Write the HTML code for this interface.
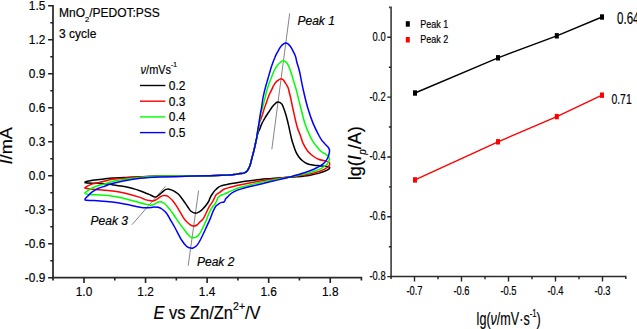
<!DOCTYPE html><html><head><meta charset="utf-8"><style>html,body{margin:0;padding:0;background:#fff;}svg{display:block;}text{font-family:"Liberation Sans",sans-serif;stroke:#000;stroke-width:0.18px;}</style></head><body>
<svg width="637" height="329" viewBox="0 0 637 329">
<rect width="637" height="329" fill="#fff"/>
<path d="M53.0,5.0 V280.59999999999997" fill="none" stroke="#444" stroke-width="2.0"/>
<path d="M52.0,277.7 H361.4 V280.5" fill="none" stroke="#2a2a2a" stroke-width="1.7"/>
<path d="M48.1,5.80H53.0 M48.1,39.79H53.0 M48.1,73.78H53.0 M48.1,107.77H53.0 M48.1,141.76H53.0 M48.1,175.75H53.0 M48.1,209.74H53.0 M48.1,243.73H53.0 M48.1,277.72H53.0 M50.3,22.80H53.0 M50.3,56.78H53.0 M50.3,90.78H53.0 M50.3,124.77H53.0 M50.3,158.76H53.0 M50.3,192.75H53.0 M50.3,226.74H53.0 M50.3,260.73H53.0 M84.00,277.7V282.9 M145.56,277.7V282.9 M207.12,277.7V282.9 M268.68,277.7V282.9 M330.24,277.7V282.9 M114.78,277.7V280.5 M176.34,277.7V280.5 M237.90,277.7V280.5 M299.46,277.7V280.5" fill="none" stroke="#222" stroke-width="1.6"/>
<text transform="translate(45.3,9.70) scale(0.9,1)" font-size="13.2" text-anchor="end" fill="#000">1.5</text>
<text transform="translate(45.3,43.69) scale(0.9,1)" font-size="13.2" text-anchor="end" fill="#000">1.2</text>
<text transform="translate(45.3,77.68) scale(0.9,1)" font-size="13.2" text-anchor="end" fill="#000">0.9</text>
<text transform="translate(45.3,111.67) scale(0.9,1)" font-size="13.2" text-anchor="end" fill="#000">0.6</text>
<text transform="translate(45.3,145.66) scale(0.9,1)" font-size="13.2" text-anchor="end" fill="#000">0.3</text>
<text transform="translate(45.3,179.65) scale(0.9,1)" font-size="13.2" text-anchor="end" fill="#000">0.0</text>
<text transform="translate(45.3,213.64) scale(0.9,1)" font-size="13.2" text-anchor="end" fill="#000">-0.3</text>
<text transform="translate(45.3,247.63) scale(0.9,1)" font-size="13.2" text-anchor="end" fill="#000">-0.6</text>
<text transform="translate(45.3,281.62) scale(0.9,1)" font-size="13.2" text-anchor="end" fill="#000">-0.9</text>
<text transform="translate(84.00,296.1) scale(0.9,1)" font-size="13.2" text-anchor="middle" fill="#000">1.0</text>
<text transform="translate(145.56,296.1) scale(0.9,1)" font-size="13.2" text-anchor="middle" fill="#000">1.2</text>
<text transform="translate(207.12,296.1) scale(0.9,1)" font-size="13.2" text-anchor="middle" fill="#000">1.4</text>
<text transform="translate(268.68,296.1) scale(0.9,1)" font-size="13.2" text-anchor="middle" fill="#000">1.6</text>
<text transform="translate(330.24,296.1) scale(0.9,1)" font-size="13.2" text-anchor="middle" fill="#000">1.8</text>
<path d="M289.7,13.4 L271.8,149.4 M198.6,190.5 L188.2,265.8 M165.5,186.2 L132,224.7" stroke="#666" stroke-width="0.8" fill="none"/>
<path d="M84.4,182.5 C84.8,182.3 85.6,181.8 86.5,181.5 C87.4,181.2 88.4,181.1 89.7,180.9 C91.0,180.6 92.2,180.3 94.6,180.0 C97.0,179.7 101.1,179.3 104.0,179.0 C106.9,178.7 108.8,178.2 112.2,178.0 C115.6,177.8 119.7,177.7 124.3,177.5 C128.9,177.3 134.1,177.0 140.0,176.8 C145.9,176.6 152.5,176.2 160.0,176.1 C167.5,176.0 176.7,176.2 185.0,176.1 C193.3,176.0 202.8,175.9 210.0,175.7 C217.2,175.5 223.7,175.3 228.0,175.1 C232.3,174.8 234.0,174.4 236.0,174.2 C238.0,173.9 238.7,173.8 240.0,173.6 C241.3,173.4 242.7,173.4 243.7,173.1 C244.7,172.8 245.4,172.4 246.1,171.9 C246.8,171.4 247.3,170.7 247.9,169.8 C248.5,169.0 249.0,167.9 249.5,166.8 C250.0,165.7 250.3,164.5 250.7,163.1 C251.1,161.7 251.4,160.1 251.9,158.3 C252.4,156.5 252.9,154.3 253.4,152.5 C253.9,150.7 254.3,148.9 254.7,147.2 C255.1,145.5 255.4,144.1 255.7,142.5 C256.0,140.9 256.3,139.5 256.7,137.8 C257.1,136.2 257.7,134.1 258.2,132.6 C258.7,131.1 259.3,130.3 259.8,129.0 C260.3,127.7 260.7,126.2 261.3,124.9 C261.9,123.6 262.4,122.4 263.2,121.0 C263.9,119.6 264.9,118.0 265.8,116.5 C266.7,115.0 267.7,113.7 268.8,112.0 C269.9,110.3 271.4,107.9 272.5,106.5 C273.6,105.1 274.6,104.2 275.5,103.4 C276.4,102.6 276.9,101.8 278.0,101.9 C279.1,102.0 280.6,102.3 281.9,104.2 C283.1,106.1 284.4,110.1 285.5,113.5 C286.6,116.9 287.4,120.3 288.4,124.6 C289.4,128.8 290.7,135.5 291.6,139.0 C292.5,142.5 292.9,143.3 293.6,145.5 C294.3,147.7 295.0,149.9 295.9,151.9 C296.8,153.9 298.0,155.8 299.1,157.3 C300.2,158.8 301.4,159.9 302.8,161.0 C304.2,162.1 305.6,163.0 307.3,163.7 C309.0,164.4 311.0,164.8 312.8,165.1 C314.6,165.4 316.4,165.4 318.0,165.6 C319.6,165.8 320.6,166.0 322.2,166.1 C323.8,166.2 326.3,166.2 327.5,166.4 C328.7,166.6 329.4,166.9 329.6,167.4 C329.8,167.9 329.6,168.5 328.8,169.2 C328.0,169.8 326.3,170.6 324.6,171.3 C322.9,172.0 320.9,172.7 318.5,173.4 C316.1,174.1 312.6,174.8 310.0,175.3 C307.4,175.8 306.1,175.9 303.2,176.2 C300.3,176.5 295.6,176.8 292.6,177.0 C289.6,177.2 288.4,177.2 285.0,177.4 C281.6,177.6 276.2,178.1 272.0,178.4 C267.8,178.8 264.5,179.0 260.0,179.5 C255.5,180.0 249.4,180.7 245.0,181.3 C240.6,181.9 236.1,182.8 233.3,183.3 C230.5,183.8 229.5,183.9 228.0,184.2 C226.5,184.5 225.5,184.7 224.4,184.9 C223.3,185.2 222.5,185.3 221.5,185.7 C220.5,186.1 219.6,186.4 218.6,187.1 C217.6,187.8 216.5,188.8 215.7,189.7 C214.8,190.5 214.2,191.2 213.5,192.2 C212.8,193.2 211.9,194.5 211.3,195.5 C210.7,196.5 210.2,197.4 209.8,198.4 C209.4,199.4 209.3,200.3 208.6,201.5 C207.9,202.7 206.8,204.3 205.8,205.5 C204.9,206.7 203.8,207.9 202.9,208.8 C202.0,209.8 201.4,210.5 200.2,211.2 C199.0,211.9 197.1,213.2 195.6,213.2 C194.1,213.2 192.3,212.4 191.0,211.3 C189.7,210.2 188.6,208.0 187.5,206.5 C186.4,205.0 186.0,204.1 184.6,202.2 C183.2,200.2 180.4,196.4 179.0,194.8 C177.6,193.2 177.0,193.1 176.0,192.4 C175.0,191.7 174.0,191.1 173.0,190.6 C172.0,190.1 170.8,189.7 170.0,189.4 C169.2,189.2 168.7,189.1 168.0,189.1 C167.3,189.1 166.7,189.2 166.0,189.4 C165.3,189.7 164.7,190.1 164.0,190.6 C163.3,191.1 162.7,191.8 162.0,192.4 C161.3,193.0 160.6,193.7 160.0,194.2 C159.4,194.7 158.9,195.1 158.3,195.5 C157.7,195.9 156.9,196.7 156.3,196.9 C155.7,197.1 155.2,197.1 154.5,196.9 C153.8,196.7 152.9,196.2 152.0,195.8 C151.1,195.4 150.0,194.8 149.0,194.4 C148.0,194.0 147.5,193.8 146.0,193.2 C144.5,192.6 142.0,191.5 140.0,190.8 C138.0,190.1 136.6,189.6 134.0,188.9 C131.4,188.2 127.9,187.2 124.3,186.5 C120.7,185.8 115.6,185.2 112.2,184.7 C108.8,184.2 106.9,183.9 104.0,183.7 C101.1,183.5 97.8,183.4 95.0,183.3 C92.2,183.2 88.8,183.1 87.0,183.0 C85.2,182.9 84.8,182.6 84.4,182.5" fill="none" stroke="#000" stroke-width="1.5" stroke-linejoin="round"/>
<path d="M84.4,188.1 C85.0,187.7 86.4,186.5 87.8,185.8 C89.2,185.1 90.7,184.5 92.6,183.9 C94.5,183.3 97.5,182.8 99.4,182.4 C101.3,182.0 101.9,181.8 104.0,181.3 C106.1,180.8 108.8,179.8 112.2,179.3 C115.6,178.8 119.7,178.6 124.3,178.2 C128.9,177.8 134.1,177.4 140.0,177.1 C145.9,176.8 152.5,176.3 160.0,176.1 C167.5,175.9 176.7,176.2 185.0,176.1 C193.3,176.0 202.8,175.9 210.0,175.7 C217.2,175.5 223.7,175.3 228.0,175.1 C232.3,174.8 234.0,174.4 236.0,174.2 C238.0,173.9 238.7,173.8 240.0,173.6 C241.3,173.4 242.7,173.4 243.7,173.1 C244.7,172.8 245.4,172.4 246.1,171.9 C246.8,171.4 247.3,170.7 247.9,169.8 C248.5,169.0 249.0,167.9 249.5,166.8 C250.0,165.7 250.3,164.5 250.7,163.1 C251.1,161.7 251.4,160.1 251.9,158.3 C252.4,156.5 252.9,154.3 253.4,152.5 C253.9,150.7 254.3,148.9 254.7,147.2 C255.1,145.5 255.4,144.1 255.7,142.5 C256.0,140.9 256.3,139.8 256.7,137.8 C257.1,135.8 257.4,133.2 257.9,130.6 C258.4,128.0 259.1,124.3 259.6,122.3 C260.2,120.2 260.7,119.8 261.2,118.3 C261.7,116.8 262.3,115.1 262.8,113.5 C263.3,111.9 263.8,110.0 264.3,108.5 C264.8,107.0 265.2,105.8 265.8,104.2 C266.4,102.6 267.1,100.4 267.7,98.7 C268.3,97.0 269.0,95.3 269.7,93.8 C270.4,92.3 270.9,91.3 271.6,89.9 C272.3,88.5 273.0,86.5 273.7,85.3 C274.4,84.0 275.0,83.2 275.7,82.4 C276.4,81.6 277.3,81.0 278.0,80.4 C278.7,79.9 279.4,79.3 280.0,79.1 C280.6,78.8 280.8,78.8 281.4,78.9 C282.0,79.0 282.8,79.2 283.4,79.9 C284.0,80.6 284.7,81.9 285.3,82.8 C285.9,83.7 286.3,84.4 286.8,85.3 C287.3,86.2 287.8,86.9 288.2,88.1 C288.6,89.3 288.9,90.8 289.3,92.5 C289.7,94.2 290.1,95.1 290.7,98.0 C291.3,100.9 292.1,105.2 293.2,110.0 C294.3,114.8 296.0,122.8 297.2,127.0 C298.4,131.2 299.2,132.2 300.2,135.0 C301.2,137.8 301.9,140.9 303.2,143.6 C304.5,146.3 306.1,149.0 307.8,151.2 C309.5,153.3 311.8,155.2 313.6,156.5 C315.4,157.8 316.7,158.5 318.5,159.2 C320.3,159.9 322.9,160.4 324.6,160.8 C326.3,161.2 327.6,161.3 328.5,161.8 C329.4,162.3 329.6,163.0 329.7,163.7 C329.8,164.4 329.4,165.3 328.8,166.1 C328.2,166.9 327.3,167.6 325.8,168.4 C324.3,169.2 322.3,170.3 319.7,171.2 C317.1,172.1 313.2,173.2 310.0,173.9 C306.8,174.6 303.2,175.1 300.2,175.6 C297.2,176.1 294.5,176.4 292.0,176.7 C289.5,177.0 288.3,177.1 285.0,177.5 C281.7,177.9 276.2,178.7 272.0,179.3 C267.8,179.9 266.4,179.8 260.0,181.0 C253.6,182.2 238.6,185.2 233.3,186.4 C228.0,187.6 229.5,187.5 228.0,187.9 C226.5,188.3 225.5,188.5 224.4,189.0 C223.3,189.5 222.2,190.4 221.5,190.9 C220.8,191.4 220.5,191.8 219.9,192.2 C219.3,192.6 218.6,193.1 217.9,193.5 C217.2,193.9 216.6,194.2 216.0,194.9 C215.4,195.6 215.0,196.9 214.5,197.8 C214.0,198.7 213.6,199.7 213.2,200.5 C212.8,201.3 212.6,201.7 212.0,202.6 C211.4,203.5 210.4,204.6 209.5,206.2 C208.6,207.8 207.6,209.9 206.6,212.0 C205.6,214.1 204.4,217.0 203.3,218.6 C202.2,220.2 201.2,220.7 200.1,221.8 C199.0,222.9 198.1,224.3 197.0,225.0 C195.9,225.7 194.9,226.2 193.7,226.1 C192.5,226.0 191.2,225.4 190.0,224.6 C188.8,223.8 187.3,222.5 186.2,221.3 C185.1,220.1 184.3,219.0 183.2,217.3 C182.1,215.6 180.8,213.2 179.6,211.2 C178.4,209.2 177.1,207.0 175.9,205.2 C174.7,203.4 173.6,201.8 172.3,200.3 C171.0,198.9 169.2,197.3 168.2,196.5 C167.1,195.7 166.7,195.8 166.0,195.7 C165.3,195.5 164.7,195.6 164.0,195.6 C163.3,195.6 162.7,195.7 162.0,195.9 C161.3,196.1 160.7,196.6 160.0,197.0 C159.3,197.4 158.7,198.0 158.0,198.5 C157.3,199.0 156.8,199.4 156.0,199.8 C155.2,200.2 154.0,200.9 153.0,201.0 C152.0,201.1 151.2,200.8 150.0,200.6 C148.8,200.4 147.7,200.4 146.0,199.9 C144.3,199.4 143.6,198.6 140.0,197.4 C136.4,196.2 128.9,194.0 124.3,192.9 C119.7,191.8 116.2,191.4 112.2,190.9 C108.2,190.4 103.8,190.1 100.0,189.8 C96.2,189.5 92.3,189.3 89.7,189.0 C87.1,188.7 85.3,188.2 84.4,188.1" fill="none" stroke="#f00" stroke-width="1.5" stroke-linejoin="round"/>
<path d="M84.4,193.3 C85.0,192.9 86.4,191.6 87.8,190.7 C89.2,189.8 90.7,188.7 92.6,187.8 C94.5,186.9 97.5,185.9 99.4,185.3 C101.3,184.7 101.9,184.8 104.0,184.1 C106.1,183.4 108.8,182.2 112.2,181.4 C115.6,180.6 119.7,180.0 124.3,179.4 C128.9,178.7 134.1,178.1 140.0,177.5 C145.9,176.9 152.5,176.3 160.0,176.1 C167.5,175.9 176.7,176.2 185.0,176.1 C193.3,176.0 202.8,175.9 210.0,175.7 C217.2,175.5 223.7,175.3 228.0,175.1 C232.3,174.8 234.0,174.4 236.0,174.2 C238.0,173.9 238.7,173.8 240.0,173.6 C241.3,173.4 242.7,173.4 243.7,173.1 C244.7,172.8 245.4,172.4 246.1,171.9 C246.8,171.4 247.3,170.7 247.9,169.8 C248.5,169.0 249.0,167.9 249.5,166.8 C250.0,165.7 250.3,164.5 250.7,163.1 C251.1,161.7 251.4,160.1 251.9,158.3 C252.4,156.5 252.9,154.3 253.4,152.5 C253.9,150.7 254.3,148.9 254.7,147.2 C255.1,145.5 255.4,144.1 255.7,142.5 C256.0,140.9 256.3,139.8 256.7,137.8 C257.1,135.8 257.4,133.2 257.8,130.6 C258.2,128.0 258.8,125.0 259.3,122.3 C259.8,119.5 260.2,116.4 260.7,114.1 C261.2,111.8 261.8,110.4 262.3,108.5 C262.8,106.6 263.3,104.6 263.8,102.6 C264.3,100.6 264.8,98.7 265.3,96.7 C265.8,94.8 266.2,92.7 266.7,90.9 C267.2,89.1 267.7,87.6 268.2,86.0 C268.7,84.4 269.2,83.0 269.8,81.4 C270.4,79.8 271.2,78.1 271.8,76.5 C272.4,74.9 273.1,73.2 273.7,71.7 C274.3,70.2 275.0,68.9 275.7,67.8 C276.4,66.7 277.1,65.7 277.8,64.9 C278.5,64.1 279.3,63.4 280.0,62.8 C280.7,62.2 281.2,61.5 281.9,61.1 C282.5,60.8 283.2,60.6 283.9,60.7 C284.5,60.8 285.1,61.3 285.8,61.9 C286.5,62.5 287.2,63.2 287.8,64.3 C288.4,65.4 289.1,67.0 289.7,68.7 C290.3,70.4 291.1,72.7 291.7,74.5 C292.3,76.3 292.7,78.0 293.1,79.4 C293.5,80.8 293.7,81.2 294.2,83.0 C294.7,84.8 295.2,85.8 296.3,90.0 C297.4,94.2 299.4,102.5 300.8,108.0 C302.2,113.5 303.4,118.8 304.8,123.2 C306.2,127.6 308.0,131.6 309.3,134.5 C310.6,137.4 311.3,138.7 312.4,140.6 C313.5,142.5 314.7,144.0 316.1,145.8 C317.5,147.6 319.3,149.8 320.9,151.2 C322.5,152.6 324.5,153.5 325.8,154.4 C327.1,155.3 328.0,155.7 328.6,156.4 C329.2,157.1 329.5,157.8 329.4,158.8 C329.3,159.8 328.8,161.2 328.2,162.3 C327.6,163.4 327.0,164.2 325.8,165.3 C324.6,166.4 322.7,167.7 320.9,168.6 C319.1,169.5 316.7,170.3 314.9,171.0 C313.1,171.7 311.9,172.0 310.0,172.6 C308.1,173.2 306.2,173.7 303.2,174.3 C300.2,175.0 295.0,175.9 292.0,176.5 C289.0,177.1 288.3,177.3 285.0,177.9 C281.7,178.5 276.2,179.4 272.0,180.2 C267.8,181.0 265.2,181.3 260.0,182.5 C254.8,183.7 245.0,186.1 240.6,187.3 C236.2,188.5 235.5,189.0 233.3,189.9 C231.2,190.8 229.1,191.8 227.7,192.5 C226.3,193.2 225.6,193.5 224.7,193.9 C223.8,194.3 223.1,194.4 222.3,194.7 C221.5,195.0 220.6,195.4 219.9,195.9 C219.2,196.4 218.4,197.2 217.9,197.8 C217.4,198.5 217.3,199.1 217.0,199.8 C216.7,200.5 216.3,201.5 216.0,202.2 C215.7,202.9 215.6,203.2 215.0,204.0 C214.4,204.8 213.3,205.7 212.4,207.0 C211.5,208.3 210.5,209.9 209.5,212.0 C208.5,214.1 207.4,217.5 206.6,219.4 C205.8,221.3 205.6,221.7 204.7,223.7 C203.8,225.7 202.0,229.6 201.0,231.5 C200.0,233.4 199.4,234.3 198.5,235.3 C197.6,236.3 196.5,237.0 195.5,237.4 C194.5,237.8 193.4,237.8 192.5,237.7 C191.6,237.6 190.7,237.1 190.0,236.6 C189.3,236.1 188.9,235.4 188.3,234.7 C187.7,234.0 186.9,233.2 186.2,232.3 C185.5,231.4 184.9,230.5 184.0,229.3 C183.1,228.2 181.9,226.7 181.0,225.4 C180.1,224.2 179.6,223.4 178.5,221.8 C177.4,220.2 175.5,217.5 174.5,216.0 C173.5,214.5 173.1,213.9 172.3,212.8 C171.6,211.7 170.9,210.7 170.0,209.6 C169.1,208.5 167.8,206.9 167.0,206.0 C166.2,205.1 165.7,204.6 165.0,204.0 C164.3,203.4 163.8,203.0 163.0,202.6 C162.2,202.2 161.3,201.8 160.5,201.7 C159.7,201.6 159.2,201.6 158.2,202.0 C157.2,202.4 155.8,203.5 154.6,204.0 C153.4,204.5 152.3,205.2 150.9,205.2 C149.5,205.2 147.9,204.6 146.1,204.2 C144.3,203.8 143.6,203.8 140.0,202.8 C136.4,201.8 128.9,199.5 124.3,198.4 C119.7,197.3 116.2,196.8 112.2,196.2 C108.2,195.6 103.8,195.3 100.0,195.0 C96.2,194.7 92.3,194.9 89.7,194.6 C87.1,194.3 85.3,193.5 84.4,193.3" fill="none" stroke="#0f0" stroke-width="1.5" stroke-linejoin="round"/>
<path d="M84.6,199.9 C84.8,199.6 85.1,198.8 85.8,198.0 C86.5,197.2 87.6,196.2 88.7,195.1 C89.8,194.0 91.1,192.8 92.6,191.7 C94.1,190.6 95.2,189.7 97.5,188.7 C99.8,187.7 103.6,186.7 106.1,185.8 C108.5,184.9 109.2,184.3 112.2,183.5 C115.2,182.7 119.7,181.7 124.3,180.8 C128.9,179.9 134.1,178.9 140.0,178.3 C145.9,177.7 152.5,177.3 160.0,177.0 C167.5,176.7 176.7,176.5 185.0,176.3 C193.3,176.1 202.8,175.9 210.0,175.7 C217.2,175.5 223.7,175.3 228.0,175.1 C232.3,174.8 234.0,174.4 236.0,174.2 C238.0,173.9 238.7,173.8 240.0,173.6 C241.3,173.4 242.7,173.4 243.7,173.1 C244.7,172.8 245.4,172.4 246.1,171.9 C246.8,171.4 247.3,170.7 247.9,169.8 C248.5,169.0 249.0,167.9 249.5,166.8 C250.0,165.7 250.3,164.5 250.7,163.1 C251.1,161.7 251.4,160.1 251.9,158.3 C252.4,156.5 252.9,154.3 253.4,152.5 C253.9,150.7 254.3,148.9 254.7,147.2 C255.1,145.5 255.4,144.1 255.7,142.5 C256.0,140.9 256.4,139.8 256.7,137.8 C257.0,135.8 257.3,133.2 257.7,130.6 C258.1,128.0 258.7,125.0 259.1,122.3 C259.5,119.5 259.9,116.6 260.3,114.1 C260.7,111.6 261.2,109.8 261.6,107.3 C262.0,104.8 262.4,101.6 262.8,99.0 C263.2,96.4 263.8,94.1 264.3,91.9 C264.8,89.7 265.4,87.6 265.8,86.0 C266.2,84.4 266.4,84.1 266.9,82.4 C267.4,80.7 268.1,77.9 268.8,75.6 C269.5,73.3 270.2,70.8 270.8,68.7 C271.4,66.6 272.1,64.7 272.7,62.9 C273.3,61.1 274.1,59.4 274.7,58.0 C275.2,56.6 275.4,56.0 276.0,54.8 C276.6,53.6 277.5,52.1 278.2,50.8 C278.9,49.5 279.7,48.1 280.4,47.1 C281.1,46.1 281.8,45.3 282.6,44.6 C283.5,43.9 284.6,43.2 285.5,43.1 C286.4,43.0 286.8,43.1 287.7,43.7 C288.6,44.3 289.6,45.4 290.6,46.8 C291.6,48.2 292.6,50.2 293.5,51.9 C294.4,53.6 295.1,55.3 295.7,57.0 C296.2,58.7 296.4,60.3 296.8,62.0 C297.2,63.7 297.8,65.2 298.3,67.0 C298.8,68.8 299.0,69.0 299.8,72.7 C300.6,76.5 301.9,83.6 303.2,89.5 C304.5,95.4 306.1,102.3 307.8,108.0 C309.5,113.7 311.3,119.0 313.1,123.4 C314.9,127.8 317.0,131.8 318.4,134.5 C319.8,137.2 320.5,138.3 321.5,139.8 C322.5,141.3 323.5,142.3 324.6,143.6 C325.7,144.8 327.4,146.3 328.2,147.3 C329.0,148.3 329.2,148.9 329.4,149.7 C329.6,150.5 329.6,151.0 329.4,152.2 C329.2,153.4 328.8,155.3 328.2,156.8 C327.6,158.3 326.8,159.8 325.8,161.1 C324.8,162.4 323.6,163.6 322.2,164.7 C320.8,165.8 319.3,166.5 317.3,167.5 C315.3,168.5 312.9,169.7 310.0,170.8 C307.1,171.9 303.2,173.1 300.2,174.0 C297.2,174.9 294.5,175.8 292.0,176.5 C289.5,177.2 288.3,177.5 285.0,178.3 C281.7,179.1 276.2,180.3 272.0,181.3 C267.8,182.3 265.2,183.0 260.0,184.3 C254.8,185.6 245.0,187.8 240.6,189.1 C236.2,190.4 235.1,191.1 233.3,192.1 C231.5,193.1 230.5,194.0 229.6,194.8 C228.7,195.6 228.3,196.2 227.7,196.9 C227.0,197.6 226.2,198.1 225.7,198.8 C225.2,199.5 225.0,200.6 224.7,201.2 C224.3,201.8 224.1,202.1 223.6,202.3 C223.1,202.5 222.4,202.2 221.8,202.4 C221.2,202.6 220.6,202.8 219.9,203.2 C219.2,203.6 218.6,204.1 217.9,204.6 C217.2,205.1 216.6,205.4 216.0,206.1 C215.4,206.8 215.0,207.5 214.5,208.5 C214.0,209.5 213.6,210.2 212.8,212.0 C212.0,213.8 211.4,215.9 209.9,219.4 C208.4,222.9 205.5,229.1 203.8,232.8 C202.1,236.5 200.8,239.2 199.5,241.5 C198.2,243.8 197.2,245.2 196.0,246.3 C194.8,247.4 193.6,247.9 192.5,248.2 C191.4,248.4 190.2,248.1 189.2,247.8 C188.2,247.5 187.7,247.4 186.5,246.2 C185.3,245.0 183.9,243.7 181.9,240.5 C179.9,237.3 176.6,230.6 174.6,227.0 C172.6,223.4 171.1,221.1 170.0,219.2 C168.9,217.3 168.8,216.7 168.0,215.5 C167.2,214.3 166.5,213.2 165.5,212.1 C164.5,211.0 163.1,209.8 161.9,209.0 C160.7,208.2 159.4,207.7 158.2,207.3 C157.0,207.0 155.8,206.9 154.6,206.9 C153.4,206.9 152.3,207.3 150.9,207.5 C149.5,207.7 147.9,207.9 146.1,207.8 C144.3,207.8 143.6,207.8 140.0,207.2 C136.4,206.6 128.9,204.9 124.3,204.1 C119.7,203.2 116.2,202.6 112.2,202.1 C108.2,201.6 103.8,201.2 100.0,200.9 C96.2,200.6 92.3,200.6 89.7,200.4 C87.1,200.2 85.4,200.0 84.6,199.9" fill="none" stroke="#00f" stroke-width="1.5" stroke-linejoin="round"/>
<text x="59" y="17.4" font-size="12" fill="#000">MnO<tspan font-size="7.5" dy="4.4">2</tspan><tspan dy="-4.4">/PEDOT:PSS</tspan></text>
<text x="59" y="37.6" font-size="12" fill="#000">3 cycle</text>
<text transform="translate(140.6,73.8) scale(0.9,1)" font-size="12.2" fill="#000"><tspan font-style="italic">ν</tspan>/mVs<tspan font-size="7.5" dy="-6.6">-1</tspan></text>
<path d="M139.9,85.50H165.4" stroke="#000" stroke-width="1.4"/>
<text x="168.8" y="89.80" font-size="12" fill="#000">0.2</text>
<path d="M139.9,101.20H165.4" stroke="#f00" stroke-width="1.4"/>
<text x="168.8" y="105.50" font-size="12" fill="#000">0.3</text>
<path d="M139.9,116.90H165.4" stroke="#0f0" stroke-width="1.4"/>
<text x="168.8" y="121.20" font-size="12" fill="#000">0.4</text>
<path d="M139.9,132.60H165.4" stroke="#00f" stroke-width="1.4"/>
<text x="168.8" y="136.90" font-size="12" fill="#000">0.5</text>
<text x="297.5" y="25.3" font-size="12" font-style="italic" fill="#000">Peak 1</text>
<text x="197" y="266.2" font-size="12" font-style="italic" fill="#000">Peak 2</text>
<text x="90.6" y="224.7" font-size="12" font-style="italic" fill="#000">Peak 3</text>
<text transform="translate(12.3,145.8) rotate(-90) scale(1.1,0.97)" font-size="16.5" text-anchor="middle" fill="#000"><tspan font-style="italic">I</tspan>/mA</text>
<text transform="translate(207,319.3) scale(0.915,1)" font-size="18" text-anchor="middle" fill="#000"><tspan font-style="italic">E</tspan> vs Zn/Zn<tspan font-size="11.5" dy="-9.8">2+</tspan><tspan dy="9.8">/V</tspan></text>
<path d="M388.90000000000003,7.4 H391.1 V279.1" fill="none" stroke="#484848" stroke-width="1.7"/>
<path d="M390.3,276.6 H625.8 V279.1" fill="none" stroke="#2a2a2a" stroke-width="1.5"/>
<path d="M387.3,37.30H391.1 M387.3,97.13H391.1 M387.3,156.96H391.1 M387.3,216.79H391.1 M387.3,276.62H391.1 M388.90000000000003,67.23H391.1 M388.90000000000003,127.06H391.1 M388.90000000000003,186.89H391.1 M388.90000000000003,246.72H391.1 M414.50,276.6V281.6 M461.50,276.6V281.6 M508.50,276.6V281.6 M555.50,276.6V281.6 M602.50,276.6V281.6 M438.00,276.6V279.20000000000005 M485.00,276.6V279.20000000000005 M532.00,276.6V279.20000000000005 M579.00,276.6V279.20000000000005" fill="none" stroke="#222" stroke-width="1.4"/>
<text transform="translate(385.6,40.70) scale(0.78,1)" font-size="12" text-anchor="end" fill="#000">0.0</text>
<text transform="translate(385.6,100.53) scale(0.78,1)" font-size="12" text-anchor="end" fill="#000">-0.2</text>
<text transform="translate(385.6,160.36) scale(0.78,1)" font-size="12" text-anchor="end" fill="#000">-0.4</text>
<text transform="translate(385.6,220.19) scale(0.78,1)" font-size="12" text-anchor="end" fill="#000">-0.6</text>
<text transform="translate(385.6,280.02) scale(0.78,1)" font-size="12" text-anchor="end" fill="#000">-0.8</text>
<text transform="translate(414.50,294.9) scale(0.7,1)" font-size="13.4" text-anchor="middle" fill="#000">-0.7</text>
<text transform="translate(461.50,294.9) scale(0.7,1)" font-size="13.4" text-anchor="middle" fill="#000">-0.6</text>
<text transform="translate(508.50,294.9) scale(0.7,1)" font-size="13.4" text-anchor="middle" fill="#000">-0.5</text>
<text transform="translate(555.50,294.9) scale(0.7,1)" font-size="13.4" text-anchor="middle" fill="#000">-0.4</text>
<text transform="translate(602.50,294.9) scale(0.7,1)" font-size="13.4" text-anchor="middle" fill="#000">-0.3</text>
<path d="M415,93 L498,57.8 L556.8,35.8 L602,17" fill="none" stroke="#000" stroke-width="1.4"/>
<rect x="413.0" y="90.3" width="4" height="5.4" fill="#000"/>
<rect x="496.0" y="55.1" width="4" height="5.4" fill="#000"/>
<rect x="554.8" y="33.1" width="4" height="5.4" fill="#000"/>
<rect x="600.0" y="14.3" width="4" height="5.4" fill="#000"/>
<path d="M415,179.9 L498,141.8 L556.8,116.6 L602,95.2" fill="none" stroke="#f00" stroke-width="1.4"/>
<rect x="413.0" y="177.2" width="4" height="5.4" fill="#f00"/>
<rect x="496.0" y="139.1" width="4" height="5.4" fill="#f00"/>
<rect x="554.8" y="113.9" width="4" height="5.4" fill="#f00"/>
<rect x="600.0" y="92.5" width="4" height="5.4" fill="#f00"/>
<rect x="405.8" y="21.2" width="4" height="5.5" fill="#000"/>
<rect x="405.8" y="37" width="4" height="5.5" fill="#f00"/>
<text transform="translate(420.2,28.2) scale(0.82,1)" font-size="11" fill="#000">Peak 1</text>
<text transform="translate(420.2,43.4) scale(0.82,1)" font-size="11" fill="#000">Peak 2</text>
<text transform="translate(617.1,24.1) scale(0.72,1)" font-size="16" fill="#000">0.64</text>
<text transform="translate(611.4,104) scale(0.72,1)" font-size="14.5" fill="#000">0.71</text>
<text transform="translate(360.6,153.2) rotate(-90)" font-size="18" text-anchor="middle" fill="#000">lg(<tspan font-style="italic">I</tspan><tspan font-size="10" dy="5" dx="0.5" font-style="italic">p</tspan><tspan dy="-5">/A)</tspan></text>
<text transform="translate(508.7,325.4) scale(0.68,1)" font-size="18.5" text-anchor="middle" fill="#000">lg(<tspan font-style="italic">ν</tspan>/mV·s<tspan font-size="11.5" dy="-8">-1</tspan><tspan dy="8">)</tspan></text>
</svg></body></html>
